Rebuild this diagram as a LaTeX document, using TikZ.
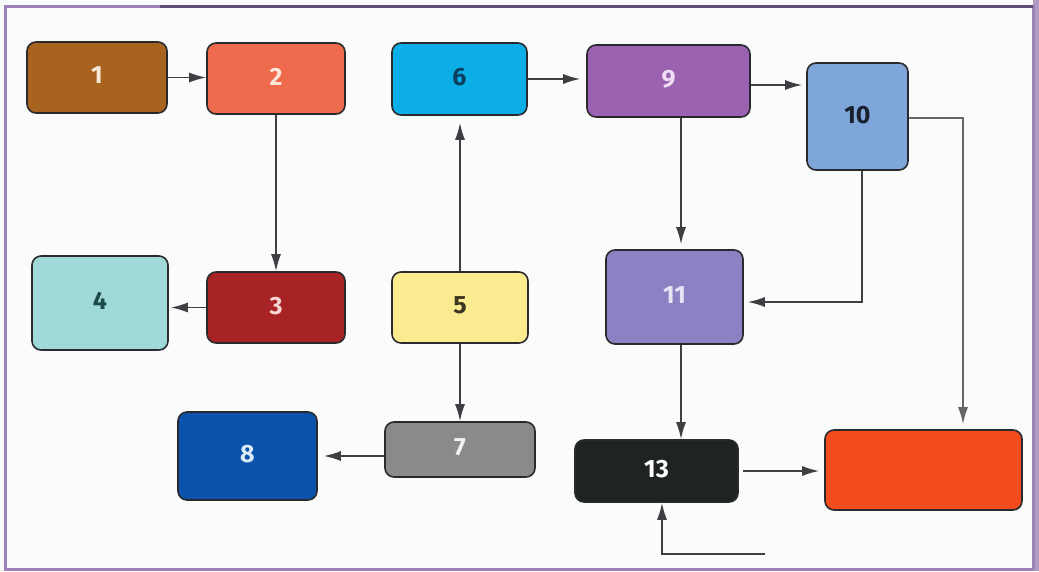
\documentclass[tikz,border=0pt]{standalone}
\usepackage{fontspec}
\setmainfont{Fira Sans}
\usetikzlibrary{arrows.meta,calc}

\definecolor{frame}{HTML}{9C82B6}
\definecolor{frametop}{HTML}{5E4E78}
\definecolor{paper}{HTML}{FAFBFB}
\definecolor{edge}{HTML}{2A2A2E}
% box fills and label colours
\definecolor{f1}{HTML}{A8641F}\definecolor{t1}{HTML}{F6EAD6}
\definecolor{f2}{HTML}{EE6A4C}\definecolor{t2}{HTML}{FBE6DA}
\definecolor{f3}{HTML}{A82323}\definecolor{t3}{HTML}{F6D6D2}
\definecolor{f4}{HTML}{9FDAD9}\definecolor{t4}{HTML}{1E4A4A}
\definecolor{f5}{HTML}{FBEB90}\definecolor{t5}{HTML}{3A3420}
\definecolor{f6}{HTML}{0BAEE6}\definecolor{t6}{HTML}{0C3E5E}
\definecolor{f7}{HTML}{8A8A8A}\definecolor{t7}{HTML}{F2F2F2}
\definecolor{f8}{HTML}{0A52AA}\definecolor{t8}{HTML}{DCEBF8}
\definecolor{f9}{HTML}{9C62B2}\definecolor{t9}{HTML}{EEDDF2}
\definecolor{f10}{HTML}{7FA6D8}\definecolor{t10}{HTML}{18202E}
\definecolor{f11}{HTML}{8A82C2}\definecolor{t11}{HTML}{E4E4F4}
\definecolor{f13}{HTML}{1F2421}\definecolor{t13}{HTML}{FFFFFF}
\definecolor{fR}{HTML}{F24B1E}

% labels sit a little above the middle of their boxes
\newcommand\lbl[1]{\raisebox{4pt}{#1}}

\tikzset{
  stepbox/.style={draw=edge, line width=1.6pt, rounded corners=9pt, inner sep=0pt,
    font=\fontsize{25}{28}\selectfont\bfseries},
  link/.style={draw=edge!90, line width=1.6pt,
    -{Latex[length=17pt,width=10pt]}},
  paleline/.style={link, draw=black!60}
}

\begin{document}
\begin{tikzpicture}[x=1pt,y=-1pt]
  % page and frame
  \fill[paper] (0,0) rectangle (1039,571);
  \useasboundingbox (0,0) rectangle (1039,571);
  \fill[frame!80] (1033,0) rectangle (1039,571);
  \draw[frame, line width=3pt] (5,6) rectangle (1033,569);
  \draw[frametop, line width=3pt] (160,6) -- (1033,6);

  % boxes
  \node[stepbox, fill=f1, text=t1, minimum width=140pt, minimum height=71pt] (n1) at (97,77.5) {\lbl{1}};
  \node[stepbox, fill=f2, text=t2, minimum width=138pt, minimum height=71pt] (n2) at (276,78.5) {\lbl{2}};
  \node[stepbox, fill=f6, text=t6, minimum width=135pt, minimum height=72pt] (n6) at (459.5,79) {\lbl{6}};
  \node[stepbox, fill=f9, text=t9, minimum width=163pt, minimum height=72pt] (n9) at (668.5,81) {\lbl{9}};
  \node[stepbox, fill=f10, text=t10, minimum width=101pt, minimum height=107pt] (n10) at (857.5,116.5) {\lbl{10}};
  \node[stepbox, fill=f4, text=t4, minimum width=136pt, minimum height=94pt] (n4) at (100,303) {\lbl{4}};
  \node[stepbox, fill=f3, text=t3, minimum width=138pt, minimum height=71pt] (n3) at (276,307.5) {\lbl{3}};
  \node[stepbox, fill=f5, text=t5, minimum width=136pt, minimum height=71pt] (n5) at (460,307.5) {\lbl{5}};
  \node[stepbox, fill=f8, text=t8, minimum width=139pt, minimum height=88pt] (n8) at (247.5,456) {\lbl{8}};
  \node[stepbox, fill=f7, text=t7, minimum width=150pt, minimum height=55pt] (n7) at (460,449.5) {\lbl{7}};
  \node[stepbox, fill=f11, text=t11, minimum width=137pt, minimum height=94pt] (n11) at (674.5,297) {\lbl{11}};
  \node[stepbox, fill=f13, text=t13, minimum width=163pt, minimum height=62pt] (n13) at (656.5,471) {\lbl{13}};
  \node[stepbox, fill=fR, minimum width=197pt, minimum height=80pt] (nR) at (923.5,470) {};

  \coordinate (free) at (765,554);

  % connectors
  \draw[link] (n1.east) -- (n1.east -| n2.west);
  \draw[link] (n2.south) -- (n3.north);
  \draw[link, shorten >=7pt] (n5.north) -- (n5.north |- n6.south);
  \draw[link, shorten >=6pt] (n6.east) -- (n6.east -| n9.west);
  \draw[link, shorten >=4pt] ([yshift=-4pt]n9.east) -- ([yshift=-4pt]n9.east -| n10.west);
  \draw[link, shorten >=5pt] ([xshift=12.5pt]n9.south) -- ([xshift=12.5pt]n9.south |- n11.north);
  \draw[link, shorten >=4pt] ([xshift=4.5pt]n10.south) |- ([yshift=-5pt]n11.east);
  \draw[paleline, shorten >=5pt] ([yshift=-1.5pt]n10.east) -| ([xshift=39.5pt]nR.north);
  \draw[link, shorten >=2pt] (n3.west) -- (n3.west -| n4.east);
  \draw[link] (n5.south) -- (n7.north);
  \draw[link, shorten >=6pt] ([yshift=-6.5pt]n7.west) -- ([yshift=-6.5pt]n7.west -| n8.east);
  \draw[link] ([xshift=6.5pt]n11.south) -- ([xshift=6.5pt]n11.south |- n13.north);
  \draw[link, shorten <=4pt, shorten >=5pt] (n13.east) -- (n13.east -| nR.west);
  \draw[link] (free) -| ([xshift=5.5pt]n13.south);
\end{tikzpicture}
\end{document}
